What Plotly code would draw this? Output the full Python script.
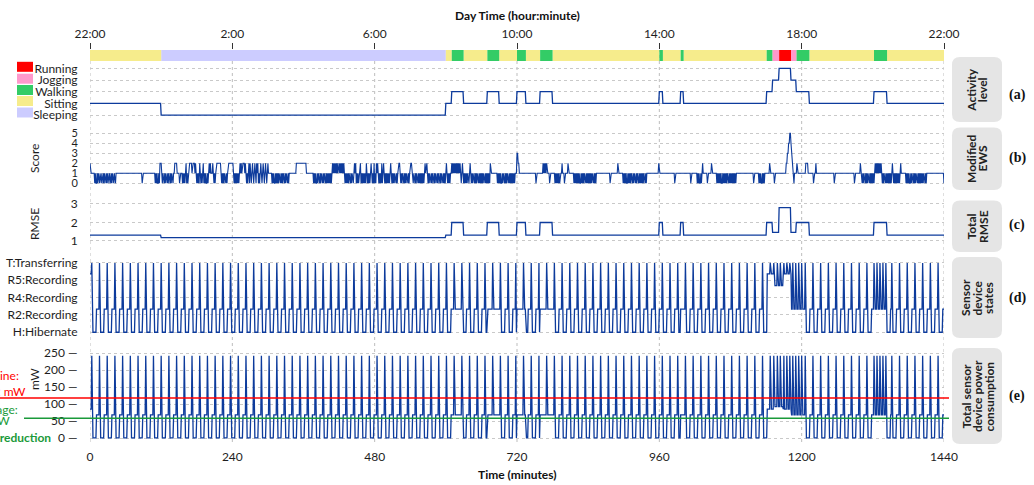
import plotly.graph_objects as go

# ---------------- data ----------------
time_ticks = [0, 240, 480, 720, 960, 1200, 1440]
clock_labels = ["22:00", "2:00", "6:00", "10:00", "14:00", "18:00", "22:00"]

activity_names = ["Sleeping", "Sitting", "Walking", "Jogging", "Running"]
activity_colors = ["#ccccff", "#f6ec8c", "#33cc66", "#ff99cc", "#ff0000"]
activity_rmse = [1.18, 1.32, 2.0, 1.47, 2.8]

act_start = [0, 120, 600, 610, 630, 670, 690, 720, 735, 759, 780, 960, 966, 996, 1001,
             1141, 1151, 1162, 1182, 1191, 1213, 1322, 1344]
act_end = [120, 600, 610, 630, 670, 690, 720, 735, 759, 780, 960, 966, 996, 1001, 1141,
           1151, 1162, 1182, 1191, 1213, 1322, 1344, 1440]
act_label = ["Sitting", "Sleeping", "Sitting", "Walking", "Sitting", "Walking", "Sitting",
             "Walking", "Sitting", "Walking", "Sitting", "Walking", "Sitting", "Walking",
             "Sitting", "Walking", "Jogging", "Running", "Jogging", "Walking", "Sitting",
             "Walking", "Sitting"]

# Modified EWS score, one value per minute (0 .. 1440), 20 minutes per chunk
ews_digits = (
    "21111111010010100100" "10010100101001001010" "01001111111111111111" "11111111111111111111"
    "11111111011111111111" "11111111110101001022" "21010010100101001010" "01122221111011110101"
    "01201011222212222121" "01010210101201010010" "12121112101012222222" "21010101001012222222"
    "22101010101012121222" "21210101202101210121" "02120101210121012101" "21111110101001010101"
    "00101010010100101111" "11111111222222222222" "22222111111111111010" "10010100101001010010"
    "10101010121212121212" "21212121210101010100" "10100121201010112010" "10101021010101210102"
    "01021210101020121010" "10101012101010100101" "22210101001010100101" "22211010010100101010"
    "10101212210101001010" "01010010100101001010" "12101010112121212121" "21212101210101010100"
    "12101010010101001010" "10101001010101021111" "11111110101010010100" "10101001010101010111"
    "33221111111111111111" "11111111111101111111" "11112121212111101111" "11110101010101112111"
    "01111121111111110101" "01010100101010100101" "01010101001010111111" "11111111111111111011"
    "11111111112111111110" "10101001010101001010" "01010010101010100101" "11111111111111111112"
    "11111111111111111111" "11111101111111111111" "11111111111110111111" "11110101001012111111"
    "10111111211111111010" "10101001010101010010" "10101010101111111111" "11111111111111111110"
    "11111111010100101011" "11111121111111011111" "11111111111111223344" "55433110111121111111"
    "11111112222111111111" "01112111111111111111" "11111111111111101111" "11111111111111111111"
    "11111111101111111112" "11010100101010010101" "01012121212121210101" "00101010101012101010"
    "10101012111111110101" "01001010010101001010" "10101010010111111111" "11111111111111111111"
    "0"
)

# sensor device: transfer (T) minutes
transfer_minutes = [3, 16, 29, 42, 55, 68, 81, 94, 107, 120, 133, 146, 159, 172, 185, 198,
                    211, 224, 237, 250, 263, 276, 289, 302, 315, 328, 341, 354, 367, 380,
                    393, 406, 419, 432, 445, 458, 471, 484, 497, 510, 523, 536, 549, 562,
                    575, 588, 601, 614, 627, 640, 653, 666, 679, 692, 705, 718, 731, 744,
                    757, 770, 783, 796, 809, 822, 835, 848, 861, 874, 887, 900, 913, 926,
                    939, 952, 965, 978, 991, 1004, 1017, 1030, 1043, 1056, 1069, 1082,
                    1095, 1108, 1121, 1134, 1147, 1153, 1159, 1164, 1170, 1175, 1180,
                    1185, 1190, 1195, 1200, 1206, 1219, 1232, 1245, 1258, 1271, 1284,
                    1297, 1310, 1322, 1327, 1332, 1337, 1342, 1352, 1365, 1378, 1391,
                    1404, 1417, 1430]
hibernate_minutes_after_transfer = 7
# periods without hibernation: (start, end, state level)
active_start = [0, 610, 670, 720, 759, 960, 996, 1142, 1153, 1169, 1183, 1322]
active_end = [3, 630, 690, 735, 780, 966, 1001, 1153, 1169, 1183, 1207, 1344]
active_level = [3.37, 1.33, 1.33, 1.33, 1.33, 1.33, 1.33, 3.37, 2.69, 3.37, 1.33, 1.33]
recording_level = 1.33
state_ticks = [0, 1, 2, 3, 4]
state_labels = ["H:Hibernate", "R2:Recording", "R4:Recording", "R5:Recording", "T:Transferring"]
# power (mW) drawn in each state level
state_level_list = [0, 1.33, 2.69, 3.37, 4]
state_power_list = [1, 69, 93, 86, 243]
baseline_mw = 118.5
average_mw = 59.0

# ---------------- derived series ----------------
minutes = list(range(0, 1441))


def activity_index(m):
    for s, e, a in zip(act_start, act_end, act_label):
        if s <= m < e:
            return activity_names.index(a)
    return activity_names.index(act_label[-1])


act_level = [activity_index(m) for m in minutes]
rmse = [activity_rmse[i] for i in act_level]

ews_x = list(range(len(ews_digits)))
ews_y = [int(c) for c in ews_digits]

tset = set(transfer_minutes)


def state_at(m):
    if m in tset:
        return 4
    for s, e, lv in zip(active_start, active_end, active_level):
        if s <= m < e:
            return lv
    prev = max(t for t in transfer_minutes if t < m)
    return 0 if m - prev <= hibernate_minutes_after_transfer else recording_level


state = [state_at(m) for m in minutes]
power = [state_power_list[state_level_list.index(s)] for s in state]

# ---------------- figure ----------------
W, H = 1034, 485
PL, PR, PT, PB = 90, 944, 50, 442


def xp(px):
    return (px - PL) / (PR - PL)


def yp(py):
    return (PB - py) / (PB - PT)


LINE = dict(color="#0d3b9c", width=1.3)
FONT = "Lato"
fig = go.Figure()

# activity strip
for name, col in zip(activity_names, activity_colors):
    idx = [i for i, a in enumerate(act_label) if a == name]
    fig.add_trace(go.Bar(
        orientation="h", base=[act_start[i] for i in idx],
        x=[act_end[i] - act_start[i] for i in idx], y=[0] * len(idx),
        width=1, marker=dict(color=col, line=dict(width=0)),
        xaxis="x2", yaxis="y", hoverinfo="skip", showlegend=False))

fig.add_trace(go.Scatter(x=minutes, y=act_level, mode="lines", line=LINE, xaxis="x", yaxis="y2"))
fig.add_trace(go.Scatter(x=ews_x, y=ews_y, mode="lines", line=dict(color="#0d3b9c", width=1.1),
                         xaxis="x", yaxis="y3"))
fig.add_trace(go.Scatter(x=minutes, y=rmse, mode="lines", line=LINE, xaxis="x", yaxis="y4"))
fig.add_trace(go.Scatter(x=minutes, y=state, mode="lines", line=LINE, xaxis="x", yaxis="y5"))
fig.add_trace(go.Scatter(x=minutes, y=power, mode="lines", line=LINE, xaxis="x", yaxis="y6"))

grid = dict(showgrid=True, gridcolor="#c9c9c9", gridwidth=1, griddash="dot", zeroline=False,
            showline=False, ticks="outside", ticklen=9, tickcolor="rgba(0,0,0,0)",
            tickfont=dict(size=12, color="#1e1e1e", family=FONT), anchor="x")
grid_small = dict(grid, tickfont=dict(size=11, color="#1e1e1e", family=FONT))

fig.update_layout(
    width=W, height=H, margin=dict(l=PL, r=W - PR, t=PT, b=H - PB, autoexpand=False),
    paper_bgcolor="white", plot_bgcolor="rgba(0,0,0,0)", showlegend=False,
    barmode="overlay", font=dict(family=FONT, size=12, color="#1e1e1e"),
    xaxis=dict(domain=[0, 1], range=[0, 1440], anchor="y6", tickvals=time_ticks,
               ticks="outside", ticklen=4, tickcolor="rgba(0,0,0,0)", showgrid=False,
               zeroline=False, showline=False, tickfont=dict(size=12, color="#1e1e1e")),
    xaxis2=dict(domain=[0, 1], range=[0, 1440], anchor="y", side="top", tickvals=time_ticks,
                ticktext=clock_labels, ticks="outside", ticklen=6, tickwidth=1,
                tickcolor="#333333", showgrid=False, zeroline=False, showline=False,
                tickfont=dict(size=12, color="#1e1e1e")),
    yaxis=dict(domain=[yp(61), yp(50)], range=[-0.5, 0.5], visible=False, anchor="x2"),
    yaxis2=dict(domain=[yp(121), yp(61)], range=[-0.51, 4.63], tickvals=[0, 1, 2, 3, 4],
                ticktext=activity_names, **grid),
    yaxis3=dict(domain=[yp(190), yp(127)], range=[-0.67, 5.63], tickvals=[0, 1, 2, 3, 4, 5],
                **grid_small),
    yaxis4=dict(domain=[yp(248), yp(199)], range=[0.62, 3.27], tickvals=[1, 2, 3], **grid),
    yaxis5=dict(domain=[yp(339), yp(256)], range=[-0.39, 4.4], tickvals=state_ticks,
                ticktext=state_labels, **grid),
    yaxis6=dict(domain=[0, yp(347)], range=[-10.9, 268.5], tickvals=[0, 50, 100, 150, 200, 250],
                ticktext=[f"{v} \u2014" for v in [0, 50, 100, 150, 200, 250]], **grid),
)

shapes = []
# vertical dotted grid lines
for t in time_ticks:
    shapes.append(dict(type="line", xref="x", yref="paper", x0=t, x1=t, y0=0, y1=1,
                       line=dict(color="#bdbdbd", width=1, dash="dot"), layer="below"))
# baseline / average lines
shapes.append(dict(type="line", xref="paper", yref="y6", x0=xp(0), x1=xp(949),
                   y0=baseline_mw, y1=baseline_mw, line=dict(color="#ff0000", width=1.6),
                   layer="above"))
shapes.append(dict(type="line", xref="paper", yref="y6", x0=xp(24), x1=xp(949),
                   y0=average_mw, y1=average_mw, line=dict(color="#1a9a3a", width=1.6),
                   layer="above"))
# activity legend squares
sq_centers = [112.5, 101, 90, 78.7, 66.8]
for c, col in zip(sq_centers, activity_colors):
    shapes.append(dict(type="rect", xref="paper", yref="paper", x0=xp(17), x1=xp(33),
                       y0=yp(c + 5), y1=yp(c - 5), line=dict(width=0), fillcolor=col))


# right side rounded boxes
def rounded_box(x0, y0, x1, y1, r):
    X0, X1 = xp(x0), xp(x1)
    Y0, Y1 = yp(y1), yp(y0)  # bottom, top in paper
    rx = r / (PR - PL)
    ry = r / (PB - PT)
    return ("M {a},{b} L {c},{b} Q {x1},{b} {x1},{d} L {x1},{e} Q {x1},{t} {c},{t} "
            "L {a},{t} Q {x0},{t} {x0},{e} L {x0},{d} Q {x0},{b} {a},{b} Z").format(
        a=X0 + rx, b=Y0, c=X1 - rx, d=Y0 + ry, e=Y1 - ry, t=Y1, x0=X0, x1=X1)


boxes = [(57, 122), (127.5, 190), (200.5, 252), (257, 338), (348, 444)]
box_text = [["Activity", "level"], ["Modified", "EWS"], ["Total", "RMSE"],
            ["Sensor", "device", "states"], ["Total sensor", "device power", "consumption"]]
panel_tags = ["(a)", "(b)", "(c)", "(d)", "(e)"]
tag_y = [95, 158, 224.5, 297.7, 395.7]
for (t0, t1) in boxes:
    shapes.append(dict(type="path", xref="paper", yref="paper",
                       path=rounded_box(952, t0, 1002, t1, 8),
                       fillcolor="#e5e5e5", line=dict(width=0), layer="below"))


def label(text, px, py, size=12, color="#1e1e1e", xanchor="center", angle=0, family=FONT):
    return dict(text=text, x=xp(px), y=yp(py), xref="paper", yref="paper", showarrow=False,
                xanchor=xanchor, yanchor="middle", textangle=angle,
                font=dict(size=size, color=color, family=family))


ann = []
for (t0, t1), lines, tag, ty in zip(boxes, box_text, panel_tags, tag_y):
    cy = (t0 + t1) / 2
    n = len(lines)
    for k, s in enumerate(lines):
        cx = 977 + (k - (n - 1) / 2) * 11.5
        ann.append(label(f"<b>{s}</b>", cx, cy, color="#222222", angle=-90))
    ann.append(label(f"<b>{tag}</b>", 1017, ty, size=14, color="#111111",
                     family="Liberation Serif"))

# axis titles
ann.append(label("<b>Day Time (hour:minute)</b>", 517, 15, color="#111111"))
ann.append(label("<b>Time (minutes)</b>", 517, 474, color="#111111"))
for txt, cy in [("Score", 159), ("RMSE", 224), ("mW", 379)]:
    ann.append(label(txt, 34, cy, angle=-90))

# baseline / average labels (partly outside the page, as in the original)
ann.append(label("Baseline:", 21, 375, color="#ff0000", xanchor="right"))
ann.append(label(f"{baseline_mw - 0.3:.1f} mW", 28, 391, color="#ff0000", xanchor="right"))
ann.append(label("Average:", 20, 409, color="#1a9a3a", xanchor="right"))
ann.append(label(f"{average_mw:.0f} mW", 12, 420, color="#1a9a3a", xanchor="right"))
reduction = round(100 * (1 - average_mw / baseline_mw))
ann.append(label(f"<b>{reduction}% reduction</b>", 53, 437, color="#1a9a3a", xanchor="right"))

fig.update_layout(shapes=shapes, annotations=ann)
fig.write_html("out.html")
